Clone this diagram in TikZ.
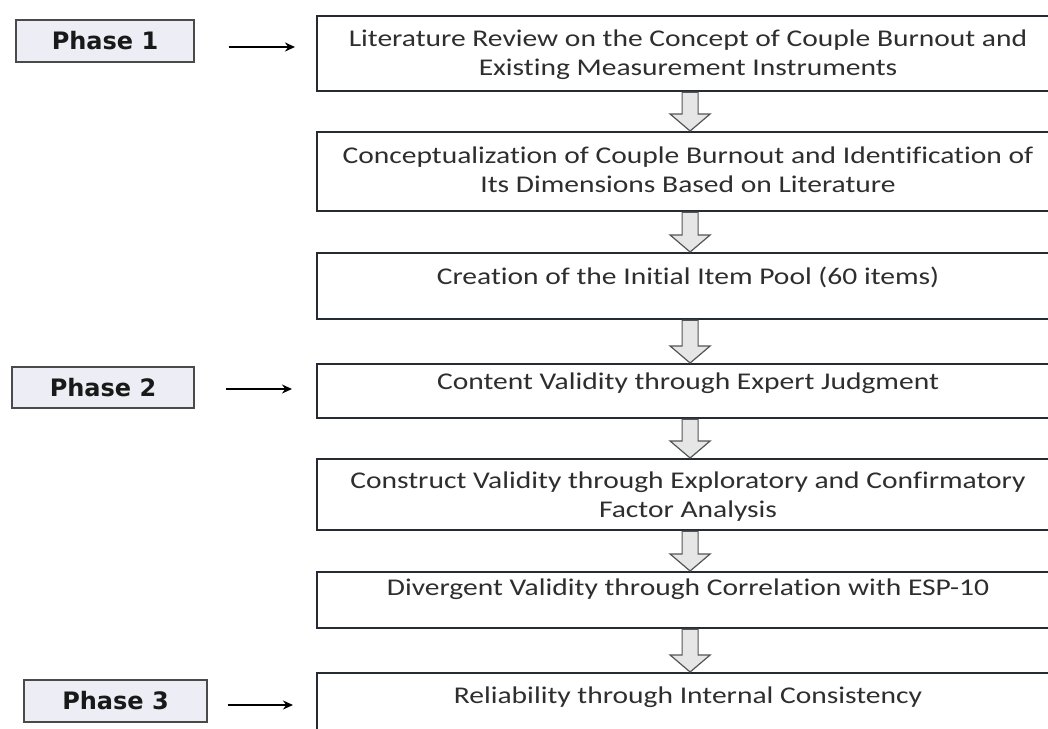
\documentclass[tikz,border=0pt]{standalone}
\usepackage{fontspec}
\setmainfont{Carlito}[FakeStretch=1.23,Ligatures=NoCommon]
\newfontfamily\phasefont{DejaVu Sans}
\usetikzlibrary{arrows.meta,calc}
\definecolor{boxline}{HTML}{262A33}
\definecolor{phasefill}{HTML}{EDEEF5}
\definecolor{phaseline}{HTML}{4A4A4A}
\definecolor{arrowfill}{HTML}{E6E6E6}
\definecolor{arrowline}{HTML}{555555}
\definecolor{txt}{HTML}{2E2E2E}
\tikzset{
  stepbox/.style={draw=boxline, line width=2.2pt, fill=white, rectangle, inner sep=0pt, minimum width=746pt, anchor=north west},
  steptext/.style={anchor=north, inner sep=0pt, align=center, text=txt, font=\fontsize{24}{28.5}\selectfont},
  phasebox/.style={draw=phaseline, line width=1.3pt, fill=phasefill, rectangle, inner sep=0pt, text=black!90, font=\phasefont\bfseries\fontsize{24}{28}\selectfont},
  phasearrow/.style={line width=2.4pt, -{Stealth[length=10pt,width=9pt]}},
  blockarr/.style={draw=arrowline, fill=arrowfill, line width=1.2pt, line join=miter}
}
\newcommand\downblock[2]{%
  \path let \p1=(#1.south), \p2=(#2.north) in
    [blockarr] ($(\x1,\y1)+(-8pt,0)$) -- ($(\x1,\y2)+(-8pt,17pt)$) -- ($(\x1,\y2)+(-20pt,17pt)$) -- (\x1,\y2)
      -- ($(\x1,\y2)+(20pt,17pt)$) -- ($(\x1,\y2)+(8pt,17pt)$) -- ($(\x1,\y1)+(8pt,0)$) -- cycle;}
\begin{document}
\begin{tikzpicture}[x=1pt,y=-1pt]
\clip (0,0) rectangle (1048,728);
\fill[white] (0,0) rectangle (1048,728);

% step boxes
\node[stepbox, minimum height=75pt] (b1) at (316,15) {};
\node[stepbox, minimum height=79pt] (b2) at (316,131) {};
\node[stepbox, minimum height=66pt] (b3) at (316,252) {};
\node[stepbox, minimum height=54pt] (b4) at (316,363) {};
\node[stepbox, minimum height=71pt] (b5) at (316,458) {};
\node[stepbox, minimum height=56pt] (b6) at (316,571) {};
\node[stepbox, minimum height=70pt] (b7) at (316,672) {};

% texts
\node[steptext] (t1) at (688,30) {Literature Review on the Concept of Couple Burnout and\\Existing Measurement Instruments};
\node[steptext] (t2) at (688,147) {Conceptualization of Couple Burnout and Identification of\\Its Dimensions Based on Literature};
\node[steptext] (t3) at (688,267) {Creation of the Initial Item Pool (60 items)};
\node[steptext] (t4) at (688,373) {Content Validity through Expert Judgment};
\node[steptext] (t5) at (688,472) {Construct Validity through Exploratory and Confirmatory\\Factor Analysis};
\node[steptext] (t6) at (688,579) {Divergent Validity through Correlation with ESP-10};
\node[steptext] (t7) at (688,687) {Reliability through Internal Consistency};

% block arrows
\downblock{b1}{b2}
\downblock{b2}{b3}
\downblock{b3}{b4}
\downblock{b4}{b5}
\downblock{b5}{b6}
\downblock{b6}{b7}

% phases
\node[phasebox, minimum width=178pt, minimum height=42pt] (p1) at (105,41) {Phase 1};
\node[phasebox, minimum width=182pt, minimum height=41pt] (p2) at (103,387.5) {Phase 2};
\node[phasebox, minimum width=183pt, minimum height=42pt] (p3) at (115.5,701) {Phase 3};

\coordinate (a1s) at ([xshift=34pt,yshift=-6pt]p1.east);
\coordinate (a1e) at (b1.west |- a1s);
\draw[phasearrow] (a1s) -- ([xshift=-21pt]a1e);
\coordinate (a2s) at ([xshift=31pt,yshift=-1.5pt]p2.east);
\coordinate (a2e) at (b4.west |- a2s);
\draw[phasearrow] (a2s) -- ([xshift=-24pt]a2e);
\coordinate (a3s) at ([xshift=20pt,yshift=-4pt]p3.east);
\coordinate (a3e) at (b7.west |- a3s);
\draw[phasearrow] (a3s) -- ([xshift=-23pt]a3e);
\end{tikzpicture}
\end{document}
